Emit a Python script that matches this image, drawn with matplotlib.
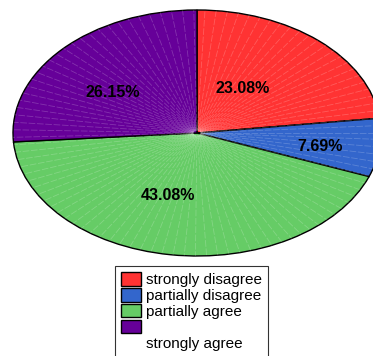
import numpy as np
import matplotlib.pyplot as plt

plt.rcParams['font.family'] = ['Liberation Sans', 'DejaVu Sans']

# survey answers (counts out of 65)
categories = ["strongly disagree", "partially disagree", "partially agree", "strongly agree"]
counts = [15, 5, 28, 17]
colors = ["#FF3333", "#3366CC", "#66CC66", "#660099"]

# label offsets inside each slice (fraction of radius, x and y)
label_pos = [(0.25, 0.36), (0.67, -0.11), (-0.16, -0.51), (-0.46, 0.33)]

fig = plt.figure(figsize=(3.73, 3.56), dpi=100)
ax = fig.add_axes([13 / 373, 100 / 356, 368 / 373, 246 / 356])

wedges, texts, autotexts = ax.pie(
    counts,
    colors=colors,
    startangle=90,
    counterclock=False,
    autopct="%.2f%%",
    wedgeprops=dict(edgecolor="black", linewidth=1.0),
    textprops=dict(fontsize=11.5, fontweight="bold", color="black"),
)
for t, (px, py) in zip(autotexts, label_pos):
    t.set_position((px, py))

# faint white rays over the slices, dash phase staggered so no rings show
for i, a in enumerate(np.arange(0, 360, 3.5)):
    r = np.deg2rad(a)
    ax.plot([0.02 * np.cos(r), np.cos(r)], [0.02 * np.sin(r), np.sin(r)],
            color="white", alpha=0.2, linewidth=0.6,
            linestyle=((i * 3) % 10, (8, 2)), zorder=1.5)
for t in autotexts:
    t.set_zorder(3)

ax.set_aspect("auto")
ax.set_xlim(-1, 1)
ax.set_ylim(-1, 1)
ax.axis("off")

# legend: the last swatch has its label on the row below
handles = list(wedges)
labels = categories[:3] + [""]
blank = plt.Rectangle((0, 0), 1, 1, facecolor="none", edgecolor="none")
handles.append(blank)
labels.append(categories[3])
leg = fig.legend(handles, labels, loc="upper left", bbox_to_anchor=(115 / 373, 1 - 266 / 356),
                 fontsize=11, frameon=True, fancybox=False, edgecolor="black",
                 handlelength=1.3, handleheight=1.0, handletextpad=0.3,
                 labelspacing=0.05, borderpad=0.4, borderaxespad=0)
leg.get_frame().set_linewidth(0.8)
for h in leg.legend_handles[:4]:
    h.set_edgecolor("black")
    h.set_linewidth(1.0)

fig.savefig("out.png", dpi=100)
